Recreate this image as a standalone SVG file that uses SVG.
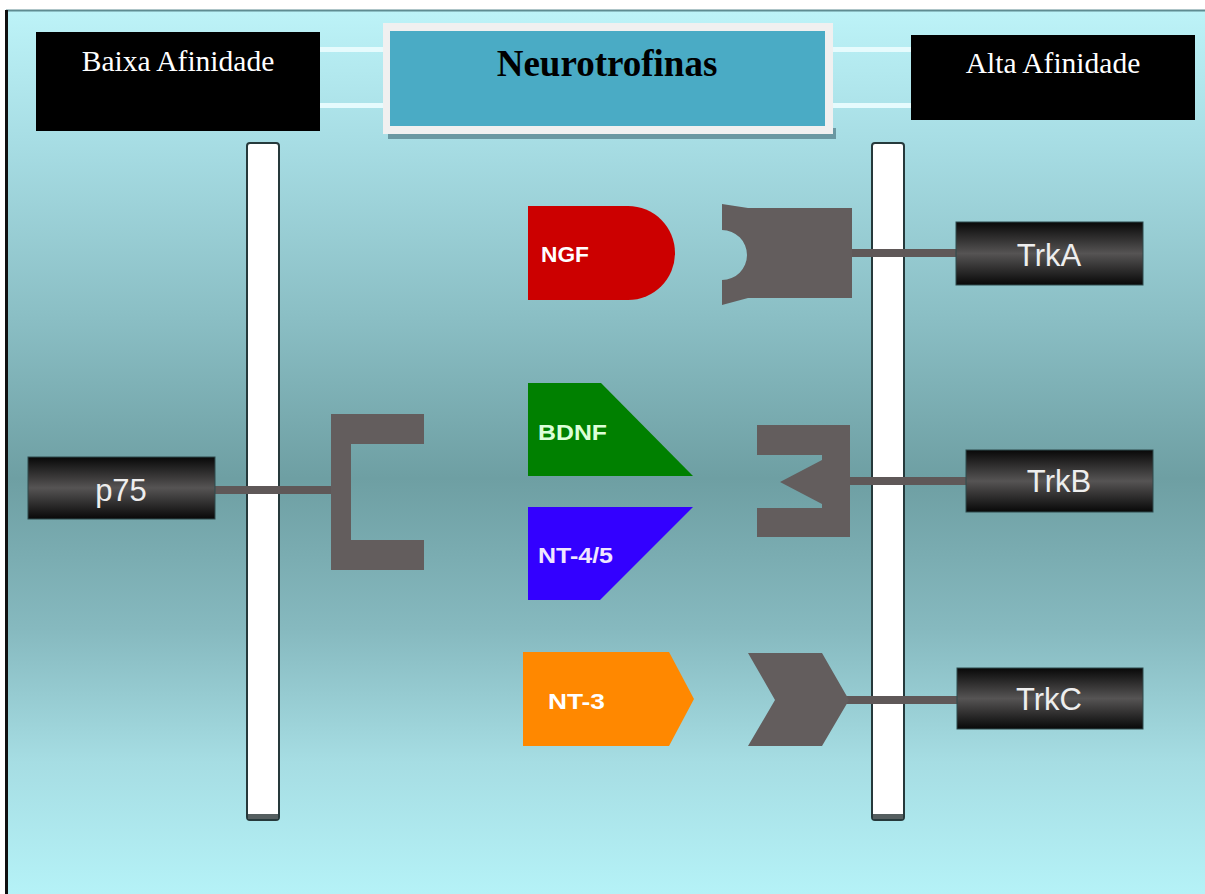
<svg xmlns="http://www.w3.org/2000/svg" width="1205" height="894" viewBox="0 0 1205 894">
  <defs>
    <linearGradient id="bg" x1="0" y1="10" x2="0" y2="894" gradientUnits="userSpaceOnUse">
      <stop offset="0" stop-color="#bdf3f8"/>
      <stop offset="0.15" stop-color="#a7dde4"/>
      <stop offset="0.35" stop-color="#8abec4"/>
      <stop offset="0.53" stop-color="#6e9fa3"/>
      <stop offset="0.7" stop-color="#86b9bf"/>
      <stop offset="0.85" stop-color="#a6dde3"/>
      <stop offset="1" stop-color="#b5f2f7"/>
    </linearGradient>
    <linearGradient id="dark" x1="0" y1="0" x2="0" y2="1">
      <stop offset="0" stop-color="#080808"/>
      <stop offset="0.5" stop-color="#565454"/>
      <stop offset="1" stop-color="#080808"/>
    </linearGradient>
    <style>
      .lbl { fill: #000; }
      .lblt { font-family: "Liberation Serif", "Times New Roman", serif; font-size: 29.5px; fill: #fff; text-anchor: middle; }
      .title { font-family: "Liberation Serif", "Times New Roman", serif; font-size: 37px; font-weight: bold; fill: #000; text-anchor: middle; }
      .rbox { fill: url(#dark); stroke: #2f4a4c; stroke-width: 1; }
      .rtxt { font-family: "Liberation Sans", Arial, sans-serif; font-size: 31px; fill: #eeeeee; text-anchor: middle; }
      .ntxt { font-family: "Liberation Sans", Arial, sans-serif; font-size: 22px; font-weight: bold; }
      .rec { fill: #635d5d; }
      .conn { stroke: #5f5858; stroke-width: 8; fill: none; }
      .mem { fill: #ffffff; stroke: #26393b; stroke-width: 2; }
    </style>
  </defs>

  <!-- background -->
  <rect x="0" y="0" width="1205" height="894" fill="#ffffff"/>
  <rect x="6" y="10" width="1199" height="884" fill="url(#bg)"/>
  <line x1="6" y1="10.5" x2="1205" y2="10.5" stroke="#5f8c92" stroke-width="2"/>
  <rect x="5" y="10" width="3" height="884" fill="#101010"/>
  <!-- decorative stripes -->
  <rect x="320" y="47" width="591" height="5" fill="#e6fbfd"/>
  <rect x="320" y="103" width="591" height="5" fill="#e6fbfd"/>

  <!-- header labels -->
  <g id="baixa-afinidade">
    <rect class="lbl" x="36" y="32" width="284" height="99"/>
    <text class="lblt" x="178" y="71">Baixa Afinidade</text>
  </g>
  <g id="neurotrofinas">
    <rect x="388" y="128" width="448" height="11" fill="#6a98a2"/>
    <rect x="383" y="23" width="450" height="111" fill="#f0f0f0"/>
    <rect x="390" y="31" width="435" height="95" fill="#4aabc5"/>
    <text class="title" x="607" y="76">Neurotrofinas</text>
  </g>
  <g id="alta-afinidade">
    <rect class="lbl" x="911" y="35" width="284" height="85"/>
    <text class="lblt" x="1053" y="73">Alta Afinidade</text>
  </g>

  <!-- membranes -->
  <g id="membrana-esquerda">
    <rect class="mem" x="247" y="143" width="32" height="677" rx="3"/>
    <rect x="248" y="814" width="30" height="5" fill="#555f60"/>
  </g>
  <g id="membrana-direita">
    <rect class="mem" x="872" y="143" width="32" height="677" rx="3"/>
    <rect x="873" y="814" width="30" height="5" fill="#555f60"/>
  </g>

  <!-- connectors -->
  <g id="connectors">
    <line class="conn" x1="215" y1="490" x2="333" y2="490"/>
    <line class="conn" x1="850" y1="253" x2="957" y2="253"/>
    <line class="conn" x1="848" y1="481" x2="967" y2="481"/>
    <line class="conn" x1="846" y1="700" x2="957" y2="700"/>
  </g>

  <!-- p75 -->
  <g id="p75">
    <rect class="rbox" x="28" y="457" width="187" height="62"/>
    <text class="rtxt" x="121" y="501">p75</text>
  </g>
  <g id="p75-receptor">
    <path class="rec" d="M331,414 H424 V444 H351 V540 H424 V570 H331 Z"/>
  </g>

  <!-- neurotrophins -->
  <g id="ngf">
    <path d="M528,206 H628 A47,47 0 0 1 628,300 H528 Z" fill="#cc0000"/>
    <text class="ntxt" x="541" y="262" fill="#ffffff" textLength="48" lengthAdjust="spacingAndGlyphs">NGF</text>
  </g>
  <g id="bdnf">
    <polygon points="528,383 601,383 693,476 528,476" fill="#008000"/>
    <text class="ntxt" x="538" y="440" fill="#dcffd8" textLength="69" lengthAdjust="spacingAndGlyphs">BDNF</text>
  </g>
  <g id="nt-4-5">
    <polygon points="528,507 693,507 600,600 528,600" fill="#3300ff"/>
    <text class="ntxt" x="538" y="563" fill="#f0e6ff" textLength="75" lengthAdjust="spacingAndGlyphs">NT-4/5</text>
  </g>
  <g id="nt-3">
    <polygon points="523,652 669,652 694,699 669,746 523,746" fill="#ff8800"/>
    <text class="ntxt" x="548" y="709" fill="#ffffff" textLength="57" lengthAdjust="spacingAndGlyphs">NT-3</text>
  </g>

  <!-- Trk receptors -->
  <g id="trka-receptor">
    <path class="rec" d="M722,204 L748,208 H852 V298 H748 L722,305 L722,280 A25,25 0 0 0 722,230 Z"/>
  </g>
  <g id="trka">
    <rect class="rbox" x="956" y="222" width="187" height="63"/>
    <text class="rtxt" x="1049" y="266">TrkA</text>
  </g>

  <g id="trkb-receptor">
    <path class="rec" d="M757,425 H850 V537 H757 V508 H822 V504 L780,482 L822,460 V455 H757 Z"/>
  </g>
  <g id="trkb">
    <rect class="rbox" x="966" y="450" width="187" height="62"/>
    <text class="rtxt" x="1059" y="492">TrkB</text>
  </g>

  <g id="trkc-receptor">
    <polygon class="rec" points="748,653 822,653 849,700 822,746 748,746 775,700"/>
  </g>
  <g id="trkc">
    <rect class="rbox" x="957" y="668" width="186" height="61"/>
    <text class="rtxt" x="1049" y="710">TrkC</text>
  </g>
</svg>
